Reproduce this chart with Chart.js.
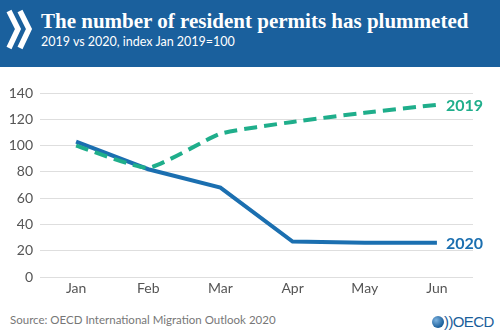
<!DOCTYPE html>
<html>
<head>
<meta charset="utf-8">
<script src="https://cdn.jsdelivr.net/npm/chart.js@4"></script>
<style>
  body { margin: 0; width: 500px; height: 333px; background: #fff; position: relative; overflow: hidden; font-family: Lato, sans-serif; }
  #header { position: absolute; left: 0; top: 0; width: 500px; height: 67px; background: #1a609d; }
  #chevron { position: absolute; left: 6px; top: 8px; }
  #title { position: absolute; left: 41px; top: 9px; color: #fff; font: bold 21px "Liberation Serif", serif; white-space: nowrap; }
  #subtitle { position: absolute; left: 41px; top: 34px; color: #fff; font: 12.5px Lato, sans-serif; white-space: nowrap; }
  #wrap { position: absolute; left: 0; top: 67px; width: 500px; height: 240px; }
  #source { position: absolute; left: 10px; top: 313px; color: #777; font: 11.5px Lato, sans-serif; }
  #logo { position: absolute; left: 432px; top: 314px; height: 18px; }
  #globe { position: absolute; left: 0; top: 2px; width: 12px; height: 12px; border-radius: 50%; background: radial-gradient(circle at 35% 35%, #7db3e0, #1a5e9a 70%); }
  #logotext { position: absolute; left: 12px; top: -1px; color: #1a5e9a; font: 15px "Liberation Sans", sans-serif; white-space: nowrap; letter-spacing: -0.6px; }
</style>
</head>
<body>
<div id="header">
  <svg id="chevron" width="28" height="44" viewBox="0 0 28 44">
    <polyline points="3,3 12,21 3,40" fill="none" stroke="#fff" stroke-width="5.5" stroke-linejoin="miter"/>
    <polyline points="14,3 23,21 14,40" fill="none" stroke="#fff" stroke-width="5.5" stroke-linejoin="miter"/>
  </svg>
  <div id="title">The number of resident permits has plummeted</div>
  <div id="subtitle">2019 vs 2020, index Jan 2019=100</div>
</div>
<div id="wrap"><canvas id="chart"></canvas></div>
<div id="source">Source: OECD International Migration Outlook 2020</div>
<div id="logo"><div id="globe"></div><div id="logotext">))OECD</div></div>
<script>
var months = ['Jan', 'Feb', 'Mar', 'Apr', 'May', 'Jun'];
var values2019 = [100, 83, 109, 118, 125, 131];
var values2020 = [103, 82, 68, 27, 26, 26];
var seriesNames = ['2019', '2020'];
var yTicks = [0, 20, 40, 60, 80, 100, 120, 140];

var teal = '#1fae8b';
var blue = '#1b6fb0';

// puts the series name just after the last point of each line
var endLabels = {
  id: 'endLabels',
  afterDatasetsDraw: function(chart) {
    var ctx = chart.ctx;
    ctx.save();
    ctx.font = 'bold 16px Lato, sans-serif';
    ctx.textBaseline = 'middle';
    chart.data.datasets.forEach(function(ds, i) {
      var meta = chart.getDatasetMeta(i);
      var last = meta.data[meta.data.length - 1];
      ctx.fillStyle = ds.borderColor;
      ctx.fillText(ds.label, last.x + 9, last.y + 1);
    });
    ctx.restore();
  }
};

new Chart(document.getElementById('chart'), {
  type: 'line',
  data: {
    labels: months,
    datasets: [{
      label: seriesNames[0],
      data: values2019,
      borderColor: teal,
      borderWidth: 4,
      borderDash: [13, 7],
      pointRadius: 0,
      tension: 0.15
    }, {
      label: seriesNames[1],
      data: values2020,
      borderColor: blue,
      borderWidth: 4,
      pointRadius: 0,
      tension: 0
    }]
  },
  options: {
    responsive: true,
    maintainAspectRatio: false,
    animation: false,
    layout: { padding: { top: 26, right: 27, left: 0, bottom: 0 } },
    plugins: { legend: { display: false }, tooltip: { enabled: false } },
    scales: {
      x: {
        offset: true,
        grid: { display: false, drawTicks: false },
        border: { display: false },
        ticks: { color: '#555', font: { family: 'Lato', size: 14 }, padding: 3 },
        afterFit: function(scale) { scale.height = 30; }
      },
      y: {
        min: 0,
        max: 140,
        afterBuildTicks: function(scale) {
          scale.ticks = yTicks.map(function(v) { return { value: v }; });
        },
        grid: { color: '#dedede', lineWidth: 1, drawTicks: false },
        border: { display: false },
        ticks: { color: '#555', font: { family: 'Lato', size: 14 }, padding: 7 },
        afterFit: function(scale) { scale.width = 40; }
      }
    }
  },
  plugins: [endLabels]
});
</script>
</body>
</html>
